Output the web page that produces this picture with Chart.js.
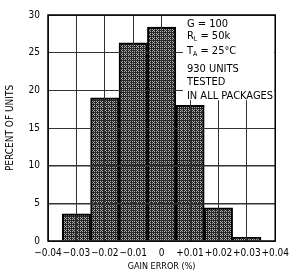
<!DOCTYPE html>
<html><head><meta charset="utf-8">
<script src="https://cdn.jsdelivr.net/npm/chart.js@4"></script>
<style>html,body{margin:0;padding:0;background:#fff}#c{display:block}</style>
</head><body>
<canvas id="c" width="295" height="272"></canvas>
<script>
// ---- data ----
const binCenters = [-0.03, -0.02, -0.01, 0, 0.01, 0.02, 0.03];
const percentOfUnits = [3.6, 19, 26.3, 28.4, 18, 4.4, 0.5];
const xTickValues = [-0.04, -0.03, -0.02, -0.01, 0, 0.01, 0.02, 0.03, 0.04];
const xTickLabels = ['\u22120.04', '\u22120.03', '\u22120.02', '\u22120.01', '0', '+0.01', '+0.02', '+0.03', '+0.04'];
const yTickValues = [0, 5, 10, 15, 20, 25, 30];
const yTickLabels = ['0', '5', '10', '15', '20', '25', '30'];
const xTitle = 'GAIN ERROR (%)';
const yTitle = 'PERCENT OF UNITS';
const noteLines = [
  [['G = 100', false]],
  [['R', false], ['L', true], [' = 50k', false]],
  [['T', false], ['A', true], [' = 25\u00B0C', false]],
  [['930 UNITS', false]],
  [['TESTED', false]],
  [['IN ALL PACKAGES', false]]
];

// ---- style ----
const FONT = "'Liberation Sans Narrow', 'DejaVu Sans Condensed', 'Liberation Sans', sans-serif";

function makeStipple() {
  const n = 4;
  const bayer = [[0, 8, 2, 10], [12, 4, 14, 6], [3, 11, 1, 9], [15, 7, 13, 5]];
  const c = document.createElement('canvas');
  c.width = c.height = n * 2;
  const g = c.getContext('2d');
  for (let j = 0; j < n * 2; j++) for (let i = 0; i < n * 2; i++) {
    const t = bayer[j % n][i % n];
    g.fillStyle = t < 11 ? '#262626' : '#b0b0b0';
    g.fillRect(i, j, 1, 1);
  }
  return g.createPattern(c, 'repeat');
}

const notePlugin = {
  id: 'notes',
  afterDraw(chart) {
    const { ctx, chartArea: a, scales } = chart;
    const xs = scales.x, ys = scales.y;
    ctx.save();
    // white area behind the notes
    const bl = xs.getPixelForValue(0.0075);
    const bb = ys.getPixelForValue(18.7);
    ctx.fillStyle = '#fff';
    ctx.fillRect(bl, a.top + 1, a.right - bl - 1, bb - a.top - 1);
    // frame
    ctx.strokeStyle = '#000';
    ctx.lineWidth = 1.5;
    ctx.strokeRect(a.left, a.top, a.right - a.left, a.bottom - a.top);
    // notes text
    ctx.fillStyle = '#000';
    ctx.textBaseline = 'middle';
    ctx.textAlign = 'left';
    const offs = [9, 21, 36, 54, 67, 81];
    noteLines.forEach((parts, k) => {
      let x = bl + 4;
      const y = a.top + offs[k];
      parts.forEach(([txt, sub]) => {
        ctx.font = (sub ? '7px ' : '11px ') + FONT;
        ctx.fillText(txt, x, sub ? y + 3 : y);
        x += ctx.measureText(txt).width;
      });
    });
    ctx.restore();
  }
};

const gridColor = '#333';
new Chart(document.getElementById('c'), {
  type: 'bar',
  data: {
    datasets: [{
      data: binCenters.map((x, i) => ({ x: x, y: percentOfUnits[i] })),
      backgroundColor: makeStipple(),
      borderColor: '#000',
      borderWidth: 2,
      barPercentage: 1,
      categoryPercentage: 1
    }]
  },
  options: {
    responsive: false,
    animation: false,
    devicePixelRatio: 1,
    layout: { padding: { top: 15, right: 18, left: 0, bottom: 0 } },
    plugins: { legend: { display: false }, tooltip: { enabled: false } },
    scales: {
      x: {
        type: 'linear',
        offset: false,
        min: -0.04, max: 0.04,
        afterBuildTicks: s => { s.ticks = xTickValues.map(v => ({ value: v })); },
        afterFit: s => { s.height = 31; },
        ticks: {
          color: '#000',
          font: { family: FONT, size: 10 },
          padding: 6,
          maxRotation: 0,
          autoSkip: false,
          callback: (v, i) => xTickLabels[i]
        },
        grid: { color: gridColor, lineWidth: 1, drawTicks: false, z: 1, offset: false },
        border: { display: false },
        title: { display: true, text: xTitle, color: '#000', font: { family: FONT, size: 9 }, padding: { top: 0, bottom: 0 } }
      },
      y: {
        min: 0, max: 30,
        afterBuildTicks: s => { s.ticks = yTickValues.map(v => ({ value: v })); },
        afterFit: s => { s.width = 48; },
        ticks: {
          color: '#000',
          font: { family: FONT, size: 10 },
          padding: 8,
          callback: (v, i) => yTickLabels[i]
        },
        grid: {
          color: gridColor,
          lineWidth: c => (c.tick && (c.tick.value === 5 || c.tick.value === 10)) ? 1.6 : 1,
          drawTicks: false, z: 1
        },
        border: { display: false },
        title: { display: true, text: yTitle, color: '#000', font: { family: FONT, size: 10 }, padding: { top: 4, bottom: 0 } }
      }
    }
  },
  plugins: [notePlugin]
});
</script>
</body></html>
